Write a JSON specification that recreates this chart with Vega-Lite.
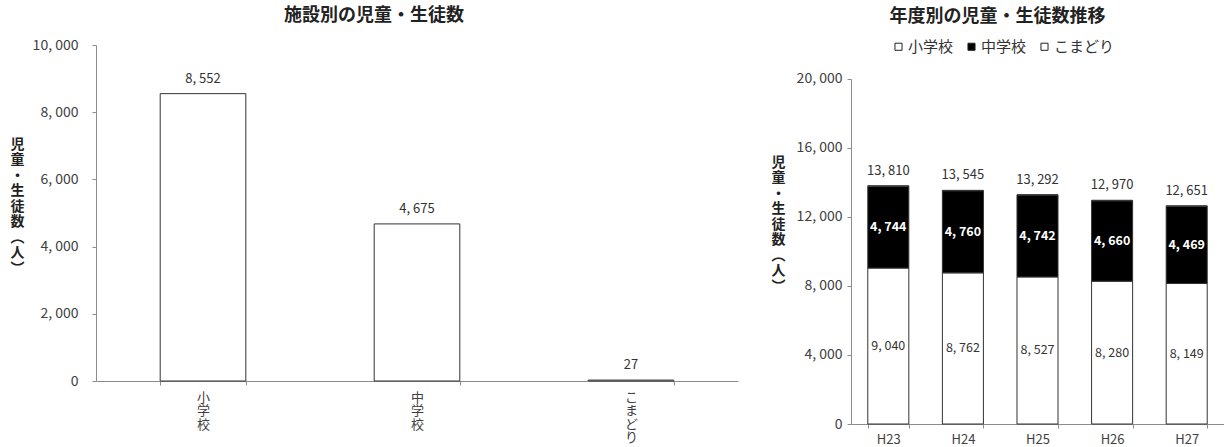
{
  "$schema": "https://vega.github.io/schema/vega-lite/v6.json",
  "padding": {"left": 10, "top": 7, "right": 0, "bottom": 0},
  "background": "white",
  "config": {
    "font": "Noto Sans CJK JP",
    "view": {"stroke": null},
    "axis": {
      "labelFont": "Noto Sans CJK JP",
      "labelFontSize": 14,
      "labelColor": "#404040",
      "titleFont": "Noto Sans CJK JP",
      "titleFontSize": 14,
      "titleFontWeight": "bold",
      "titleColor": "#222",
      "domainColor": "#8c8c8c",
      "tickColor": "#8c8c8c",
      "grid": false
    },
    "title": {"font": "Noto Sans CJK JP", "fontSize": 18, "fontWeight": "bold", "color": "#222", "anchor": "middle", "frame": "bounds"}
  },
  "resolve": {"scale": {"color": "independent"}, "legend": {"color": "independent"}},
  "spacing": 33,
  "hconcat": [
    {
      "title": {"text": "施設別の児童・生徒数", "offset": 13},
      "width": 642,
      "height": 336,
      "data": {"values": [
        {"f": "小学校", "v": 8552},
        {"f": "中学校", "v": 4675},
        {"f": "こまどり", "v": 27}
      ]},
      "encoding": {
        "x": {"field": "f", "type": "nominal", "sort": null,
          "scale": {"paddingInner": 0.6, "paddingOuter": 0.3},
          "axis": {"title": null, "labelAngle": 0, "tickBand": "extent", "tickSize": 4, "labelFontSize": 13,
            "labelExpr": "split(datum.label, '')", "labelLineHeight": 13.5, "labelBaseline": "top", "labelPadding": 6}},
        "y": {"field": "v", "type": "quantitative",
          "scale": {"domain": [0, 10000], "nice": false},
          "axis": {"values": [0, 2000, 4000, 6000, 8000, 10000], "tickSize": 4, "labelPadding": 14,
            "labelExpr": "replace(format(datum.value, ','), ',', ', ')",
            "title": ["児", "童", "・", "生", "徒", "数", "︵", "人", "︶"],
            "titleAngle": 0, "titleX": -79, "titleY": 99, "titleAlign": "center", "titleBaseline": "middle", "titleLineHeight": 15.5}}
      },
      "layer": [
        {"mark": {"type": "bar", "fill": "white", "stroke": "#333", "strokeWidth": 1}},
        {"mark": {"type": "text", "baseline": "bottom", "dy": -8, "fontSize": 13, "color": "#333",
          "text": {"expr": "replace(format(datum.v, ','), ',', ', ')"}}}
      ]
    },
    {
      "title": {"text": "年度別の児童・生徒数推移", "offset": 13},
      "width": 373,
      "height": 379,
      "data": {"values": [
        {"year": "H23", "s": "小学校", "v": 9040},
        {"year": "H23", "s": "中学校", "v": 4744},
        {"year": "H23", "s": "こまどり", "v": 26},
        {"year": "H24", "s": "小学校", "v": 8762},
        {"year": "H24", "s": "中学校", "v": 4760},
        {"year": "H24", "s": "こまどり", "v": 23},
        {"year": "H25", "s": "小学校", "v": 8527},
        {"year": "H25", "s": "中学校", "v": 4742},
        {"year": "H25", "s": "こまどり", "v": 23},
        {"year": "H26", "s": "小学校", "v": 8280},
        {"year": "H26", "s": "中学校", "v": 4660},
        {"year": "H26", "s": "こまどり", "v": 30},
        {"year": "H27", "s": "小学校", "v": 8149},
        {"year": "H27", "s": "中学校", "v": 4469},
        {"year": "H27", "s": "こまどり", "v": 33}
      ]},
      "transform": [
        {"stack": "v", "groupby": ["year"], "sort": [{"field": "s", "order": "descending"}], "as": ["v0", "v1"]}
      ],
      "layer": [
        {
          "mark": {"type": "bar", "stroke": "#333", "strokeWidth": 1},
          "encoding": {
            "x": {"field": "year", "type": "nominal",
              "scale": {"paddingInner": 0.45, "paddingOuter": 0.225},
              "axis": {"title": null, "labelAngle": 0, "tickBand": "extent", "tickSize": 4, "labelPadding": 5, "labelFontSize": 13}},
            "y": {"field": "v1", "type": "quantitative",
              "scale": {"domain": [0, 21971], "nice": false},
              "axis": {"values": [0, 4000, 8000, 12000, 16000, 20000], "tickSize": 4, "labelPadding": 5,
                "domainDash": [345, 400],
                "labelExpr": "replace(format(datum.value, ','), ',', ', ')",
                "title": ["児", "童", "・", "生", "徒", "数", "︵", "人", "︶"],
                "titleAngle": 0, "titleX": -73, "titleY": 117, "titleAlign": "center", "titleBaseline": "middle", "titleLineHeight": 15.5}},
            "y2": {"field": "v0"},
            "color": {"field": "s", "type": "nominal",
              "scale": {"domain": ["小学校", "中学校", "こまどり"], "range": ["white", "black", "white"]},
              "legend": {"title": null, "orient": "none", "legendX": 40, "legendY": -6, "direction": "horizontal",
                "columns": 3, "symbolType": "square", "symbolSize": 50, "symbolStrokeColor": "#222", "symbolStrokeWidth": 1,
                "labelFontSize": 15, "labelColor": "#333", "labelOffset": 2, "columnPadding": 10, "labelFont": "Noto Sans CJK JP"}}
          }
        },
        {
          "transform": [
            {"filter": "datum.s === '小学校'"},
            {"fold": ["v0", "v1"], "as": ["k", "p"]},
            {"aggregate": [{"op": "mean", "field": "p", "as": "mid"}], "groupby": ["year", "s", "v"]}
          ],
          "mark": {"type": "text", "fontSize": 12.5, "color": "#333", "baseline": "middle",
            "text": {"expr": "replace(format(datum.v, ','), ',', ', ')"}},
          "encoding": {
            "x": {"field": "year", "type": "nominal"},
            "y": {"field": "mid", "type": "quantitative"}
          }
        },
        {
          "transform": [
            {"filter": "datum.s === '中学校'"},
            {"fold": ["v0", "v1"], "as": ["k", "p"]},
            {"aggregate": [{"op": "mean", "field": "p", "as": "mid"}], "groupby": ["year", "s", "v"]}
          ],
          "mark": {"type": "text", "fontSize": 12.5, "fontWeight": "bold", "color": "white", "baseline": "middle",
            "text": {"expr": "replace(format(datum.v, ','), ',', ', ')"}},
          "encoding": {
            "x": {"field": "year", "type": "nominal"},
            "y": {"field": "mid", "type": "quantitative"}
          }
        },
        {
          "transform": [{"aggregate": [{"op": "sum", "field": "v", "as": "total"}], "groupby": ["year"]}],
          "mark": {"type": "text", "fontSize": 13, "color": "#333", "baseline": "bottom", "dy": -8,
            "text": {"expr": "replace(format(datum.total, ','), ',', ', ')"}},
          "encoding": {
            "x": {"field": "year", "type": "nominal"},
            "y": {"field": "total", "type": "quantitative"}
          }
        }
      ]
    }
  ]
}
